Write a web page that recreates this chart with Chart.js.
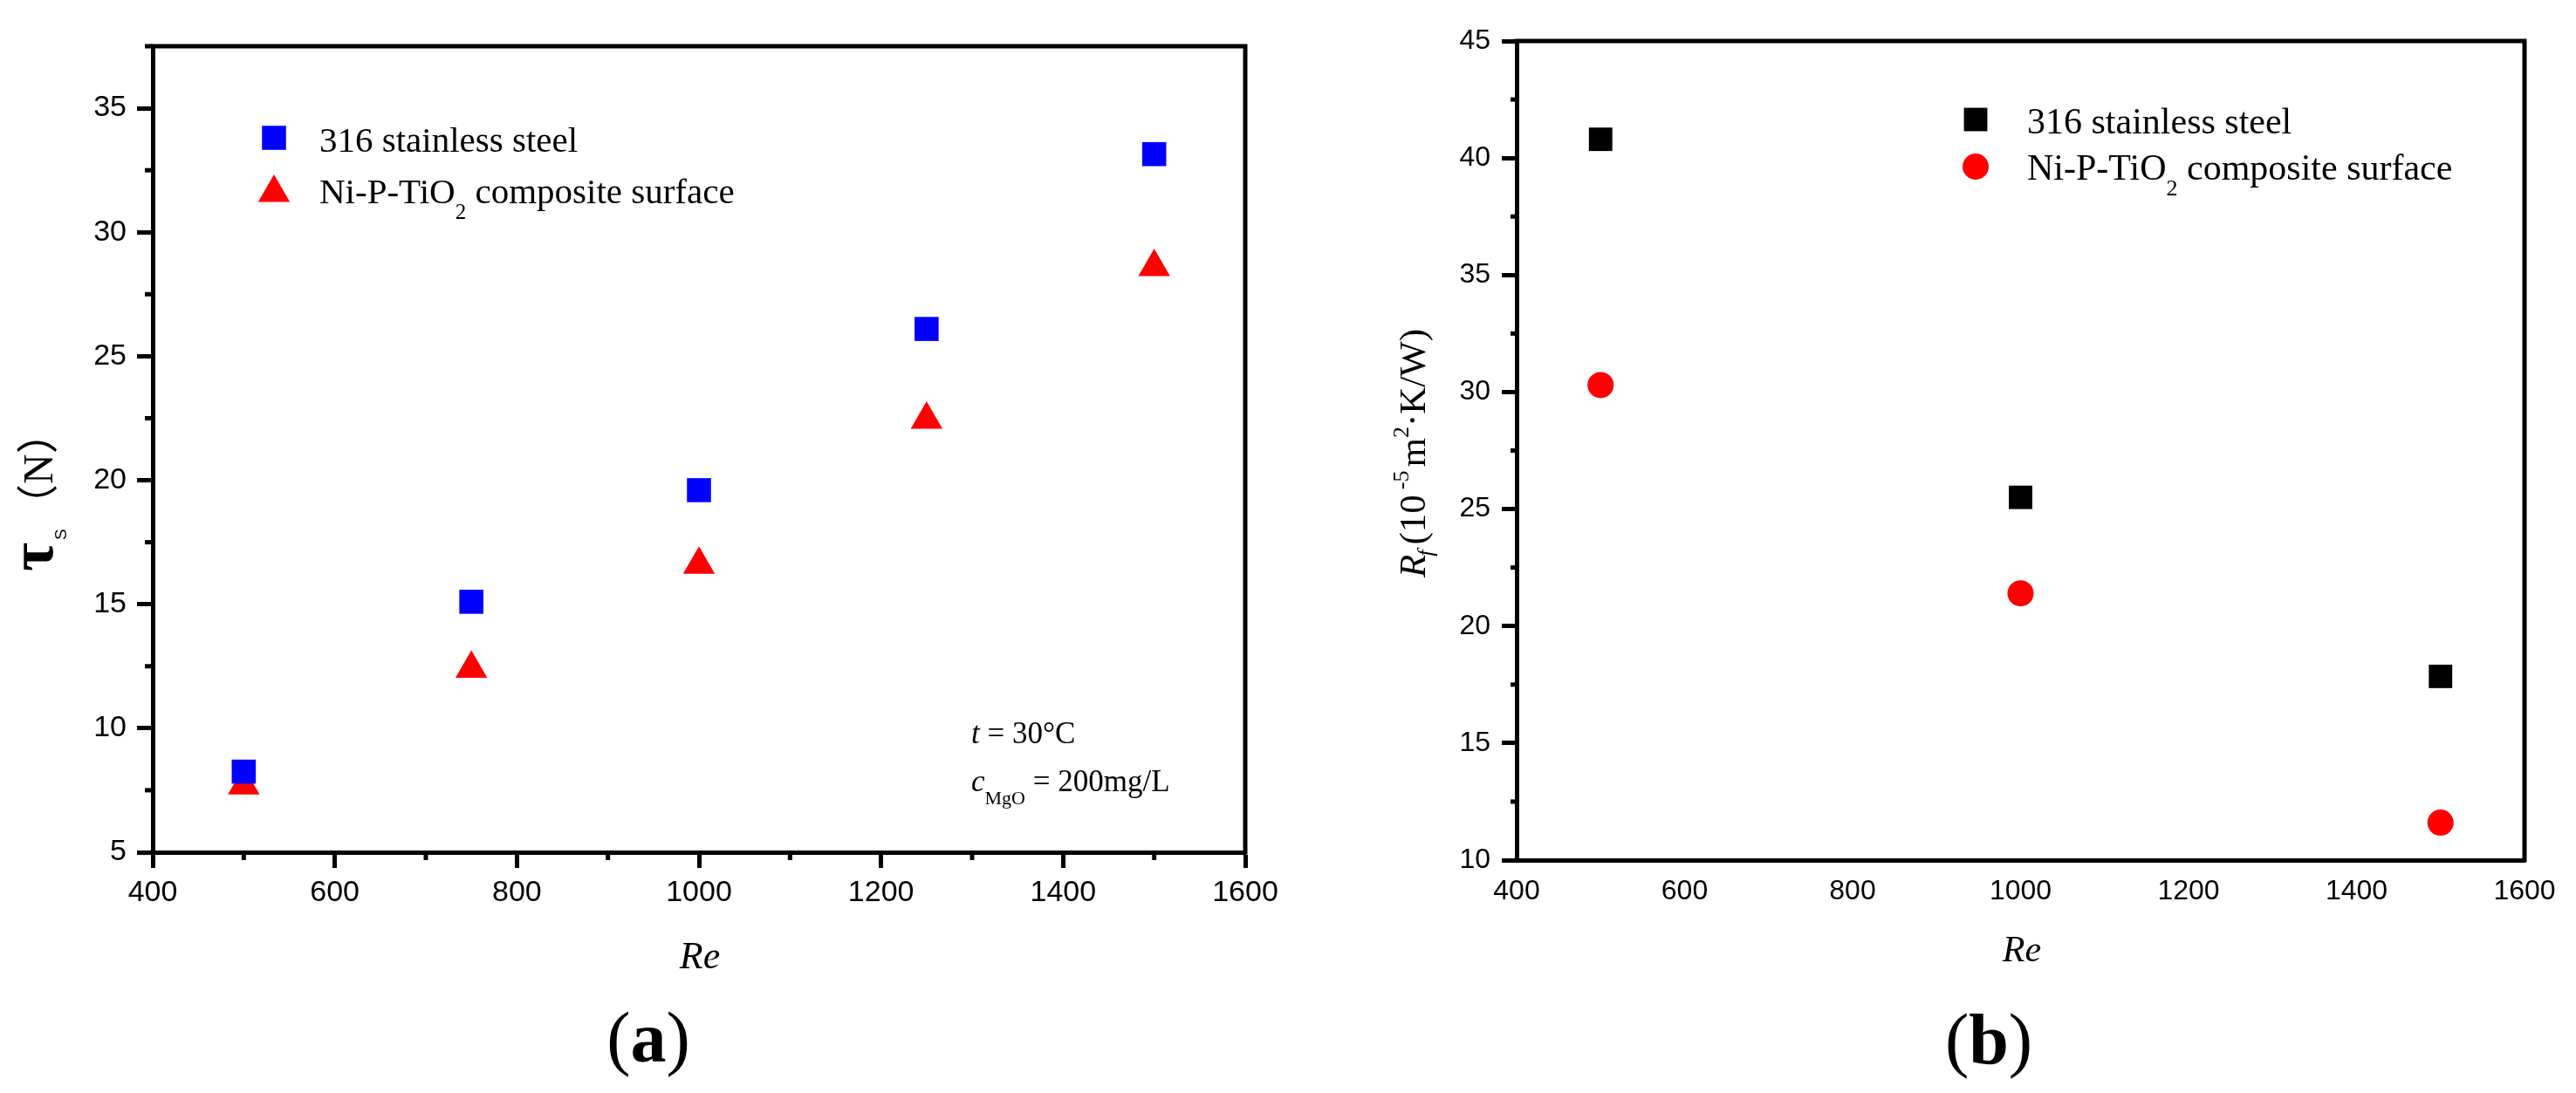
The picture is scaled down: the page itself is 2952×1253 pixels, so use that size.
<!DOCTYPE html>
<html>
<head>
<meta charset="utf-8">
<script src="https://cdn.jsdelivr.net/npm/chart.js@4.4.1/dist/chart.umd.min.js"></script>
<style>
html, body { margin: 0; padding: 0; background: #fff; }
body { width: 2952px; height: 1253px; position: relative; overflow: hidden; }
canvas { position: absolute; top: 0; }
#chartA { left: 0; }
#chartB { left: 1500px; }
</style>
</head>
<body>
<canvas id="chartA" width="1500" height="1253"></canvas>
<canvas id="chartB" width="1452" height="1253"></canvas>
<script>
// (a) shear stress vs Re
const reA = [500, 750, 1000, 1250, 1500];
const tauSteel = [8.25, 15.1, 19.6, 26.1, 33.15];
const tauNiP = [7.7, 12.4, 16.6, 22.45, 28.6];

// (b) fouling resistance vs Re
const reB = [500, 1000, 1500];
const rfSteel = [40.8, 25.5, 17.85];
const rfNiP = [30.3, 21.4, 11.6];

const xTickLabels = [400, 600, 800, 1000, 1200, 1400, 1600];
const yTickLabelsA = [5, 10, 15, 20, 25, 30, 35];
const yTickLabelsB = [10, 15, 20, 25, 30, 35, 40, 45];
const seriesNames = ['316 stainless steel', 'Ni-P-TiO₂ composite surface'];

const SERIF = "'Liberation Serif', 'Times New Roman', serif";
const SANS = "'Liberation Sans', Arial, sans-serif";

function isMajor(v, major) {
  return Math.abs(v / major - Math.round(v / major)) < 1e-6;
}

// draw text pieces one after another (for sub/superscripts)
function runs(ctx, x, y, parts) {
  parts.forEach(p => {
    ctx.font = p.f;
    x += p.dx || 0;
    ctx.fillText(p.t, x, y + (p.dy || 0));
    x += ctx.measureText(p.t).width;
  });
  return x;
}

function subLabel(text, size) {
  const bits = text.split('₂');
  const out = [{t: bits[0], f: size + 'px ' + SERIF}];
  if (bits.length > 1) {
    out.push({t: '2', f: Math.round(size * 0.62) + 'px ' + SERIF, dy: 18});
    out.push({t: bits[1], f: size + 'px ' + SERIF});
  }
  return out;
}

function decor(p) {
  return {
    id: 'decor_' + p.id,
    afterDraw(chart) {
      const ctx = chart.ctx;
      const a = chart.chartArea;
      const w = p.lineW;
      ctx.save();
      ctx.fillStyle = '#000';
      ctx.strokeStyle = '#000';

      // top + right frame lines
      ctx.lineWidth = w;
      ctx.lineJoin = 'miter';
      ctx.beginPath();
      ctx.moveTo(a.left - w / 2, a.top);
      ctx.lineTo(a.right, a.top);
      ctx.lineTo(a.right, a.bottom + w / 2);
      ctx.stroke();

      // minor ticks
      const ys = chart.scales.y, xs = chart.scales.x;
      ys.ticks.forEach(t => {
        if (isMajor(t.value, p.y.major)) return;
        const py = ys.getPixelForValue(t.value);
        ctx.beginPath();
        ctx.moveTo(a.left - p.y.minorLen, py);
        ctx.lineTo(a.left, py);
        ctx.stroke();
      });
      if (p.x.minorLen) {
        xs.ticks.forEach(t => {
          if (isMajor(t.value, p.x.major)) return;
          const px = xs.getPixelForValue(t.value);
          ctx.beginPath();
          ctx.moveTo(px, a.bottom);
          ctx.lineTo(px, a.bottom + p.x.minorLen);
          ctx.stroke();
        });
      }

      // legend
      chart.data.datasets.forEach((ds, i) => {
        const L = p.legend;
        ctx.fillStyle = ds.backgroundColor;
        ctx.beginPath();
        Chart.helpers.drawPoint(ctx, {
          pointStyle: ds.pointStyle, rotation: 0, radius: ds.pointRadius, borderWidth: 0
        }, L.mx, L.my[i]);
        ctx.fillStyle = '#000';
        ctx.textAlign = 'left';
        ctx.textBaseline = 'alphabetic';
        runs(ctx, L.tx, L.ty[i], subLabel(ds.label, L.size));
      });

      // axis titles and panel label
      p.extra(ctx);
      ctx.restore();
    }
  };
}

function makeChart(p) {
  const el = document.getElementById(p.id);
  const W = el.width, H = el.height;
  return new Chart(el, {
    type: 'scatter',
    data: {
      datasets: p.series.map(s => ({
        label: s.name,
        data: s.x.map((x, i) => ({x: x, y: s.y[i]})),
        pointStyle: s.style,
        pointRadius: s.radius,
        pointHoverRadius: s.radius,
        pointBorderWidth: 0,
        backgroundColor: s.color,
        borderColor: s.color,
        showLine: false
      }))
    },
    options: {
      responsive: false,
      animation: false,
      devicePixelRatio: 1,
      events: [],
      layout: {padding: {left: 0, top: p.area.top, right: W - p.area.right, bottom: 0}},
      plugins: {legend: {display: false}, tooltip: {enabled: false}},
      scales: {
        x: {
          type: 'linear', position: 'bottom', min: p.x.min, max: p.x.max,
          afterFit: s => { s.height = H - p.area.bottom; },
          border: {display: true, color: '#000', width: p.lineW},
          grid: {
            display: true, drawOnChartArea: false,
            drawTicks: p.x.tickLen > 0, tickLength: p.x.tickLen, tickWidth: p.lineW,
            tickColor: c => (c.tick && isMajor(c.tick.value, p.x.major)) ? '#000' : 'rgba(0,0,0,0)'
          },
          ticks: {
            stepSize: p.x.step, autoSkip: false, maxRotation: 0, minRotation: 0,
            padding: p.x.pad, color: '#000',
            font: {family: SANS, size: p.tickSize},
            callback: v => p.x.labels.includes(v) ? String(v) : ''
          }
        },
        y: {
          type: 'linear', position: 'left', min: p.y.min, max: p.y.max,
          afterFit: s => { s.width = p.area.left; },
          border: {display: true, color: '#000', width: p.lineW},
          grid: {
            display: true, drawOnChartArea: false,
            drawTicks: true, tickLength: p.y.tickLen, tickWidth: p.lineW,
            tickColor: c => (c.tick && isMajor(c.tick.value, p.y.major)) ? '#000' : 'rgba(0,0,0,0)'
          },
          ticks: {
            stepSize: p.y.step, autoSkip: false,
            padding: p.y.pad, color: '#000',
            font: {family: SANS, size: p.tickSize},
            callback: v => p.y.labels.includes(v) ? String(v) : ''
          }
        }
      }
    },
    plugins: [decor(p)]
  });
}

function panelLabel(ctx, letter, cx, baseline) {
  const parts = [
    {t: '(', f: '82px ' + SERIF},
    {t: letter, f: 'bold 82px ' + SERIF},
    {t: ')', f: '82px ' + SERIF}
  ];
  let w = 0;
  parts.forEach(q => { ctx.font = q.f; w += ctx.measureText(q.t).width; });
  ctx.textAlign = 'left';
  runs(ctx, cx - w / 2, baseline, parts);
}

// panel (a)
makeChart({
  id: 'chartA',
  area: {left: 175, right: 1427, top: 53, bottom: 977},
  lineW: 5,
  tickSize: 34,
  x: {min: 400, max: 1600, step: 100, major: 200, labels: xTickLabels, tickLen: 18, minorLen: 9, pad: 8},
  y: {min: 5, max: 37.5, step: 2.5, major: 5, labels: yTickLabelsA, tickLen: 18, minorLen: 9, pad: 12},
  series: [
    {name: seriesNames[0], x: reA, y: tauSteel, style: 'rect', radius: 19.5, color: '#0000ff'},
    {name: seriesNames[1], x: reA, y: tauNiP, style: 'triangle', radius: 21, color: '#ff0000'}
  ],
  legend: {mx: 314, my: [158, 221], tx: 366, ty: [174, 233], size: 41},
  extra(ctx) {
    ctx.textAlign = 'left';
    ctx.textBaseline = 'alphabetic';
    // y title
    ctx.save();
    ctx.translate(60, 655);
    ctx.rotate(-Math.PI / 2);
    ctx.font = 'bold 72px ' + SERIF;
    ctx.fillText('τ', 0, 0);
    ctx.font = '19px ' + SANS;
    ctx.fillText('S', 36, 16);
    ctx.font = "48px 'Liberation Serif', 'Noto Sans CJK SC', serif";
    ctx.fillText('（N）', 52, 0);
    ctx.restore();
    // x title
    ctx.textAlign = 'center';
    ctx.font = 'italic 44px ' + SERIF;
    ctx.fillText('Re', 802, 1110);
    // conditions
    ctx.textAlign = 'left';
    runs(ctx, 1113, 852, [
      {t: 't', f: 'italic 35px ' + SERIF},
      {t: ' = 30°C', f: '35px ' + SERIF}
    ]);
    runs(ctx, 1113, 907, [
      {t: 'c', f: 'italic 35px ' + SERIF},
      {t: 'MgO', f: '22px ' + SERIF, dy: 15},
      {t: ' = 200mg/L', f: '35px ' + SERIF}
    ]);
    panelLabel(ctx, 'a', 743, 1217);
  }
});

// panel (b)
makeChart({
  id: 'chartB',
  area: {left: 238, right: 1393, top: 47, bottom: 986},
  lineW: 5,
  tickSize: 32,
  x: {min: 400, max: 1600, step: 200, major: 200, labels: xTickLabels, tickLen: 0, minorLen: 0, pad: 17},
  y: {min: 10, max: 45, step: 2.5, major: 5, labels: yTickLabelsB, tickLen: 17, minorLen: 7, pad: 13},
  series: [
    {name: seriesNames[0], x: reB, y: rfSteel, style: 'rect', radius: 19, color: '#000000'},
    {name: seriesNames[1], x: reB, y: rfNiP, style: 'circle', radius: 15, color: '#ff0000'}
  ],
  legend: {mx: 764, my: [137, 191], tx: 823, ty: [153, 206], size: 42},
  extra(ctx) {
    ctx.textAlign = 'left';
    ctx.textBaseline = 'alphabetic';
    ctx.save();
    ctx.translate(133, 662);
    ctx.rotate(-Math.PI / 2);
    runs(ctx, 0, 0, [
      {t: 'R', f: 'italic 43px ' + SERIF},
      {t: 'f', f: 'italic 26px ' + SERIF, dy: 9, dx: -2},
      {t: '(10', f: '43px ' + SERIF, dx: 6},
      {t: '-5', f: '26px ' + SERIF, dy: -19, dx: 6},
      {t: 'm', f: '43px ' + SERIF, dx: 4},
      {t: '2', f: '26px ' + SERIF, dy: -19},
      {t: '·K/W)', f: '43px ' + SERIF}
    ]);
    ctx.restore();
    ctx.textAlign = 'center';
    ctx.font = 'italic 42px ' + SERIF;
    ctx.fillText('Re', 817, 1102);
    panelLabel(ctx, 'b', 779, 1219);
  }
});
</script>
</body>
</html>
